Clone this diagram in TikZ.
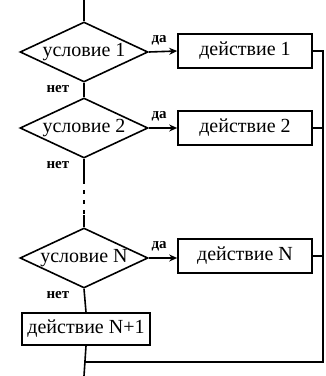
\documentclass[tikz,border=0pt]{standalone}
\usepackage{fontspec}
\setmainfont{Liberation Serif}
\usetikzlibrary{shapes.geometric,arrows.meta}
\begin{document}
\begin{tikzpicture}[x=0.5pt,y=-0.5pt,line width=0.8pt,
  cond/.style={diamond,draw,inner sep=0pt,minimum width=64pt,minimum height=30pt,aspect=2.13,font=\fontsize{10}{12}\selectfont},
  act/.style={rectangle,draw,inner sep=0pt,minimum width=67pt,minimum height=17pt,font=\fontsize{10}{12}\selectfont},
  lbl/.style={font=\fontsize{7.5}{9}\selectfont\bfseries,inner sep=1pt},
  arr/.style={-{Stealth[length=4pt,width=3.5pt]}}]
\useasboundingbox (0,0) rectangle (326,376);
\coordinate (top) at (84,0);
\node[cond] (d1) at (84,52) {условие 1};
\node[cond] (d2) at (84,128) {условие 2};
\node[cond] (dN) at (84,258) {условие N};
\node[act] (b1) at (245,51) {действие 1};
\node[act] (b2) at (245,128) {действие 2};
\node[act] (bN) at (245,256) {действие N};
\node[act,minimum width=64pt,minimum height=16pt] (bN1) at (86,329) {действие N+1};
\coordinate (c1) at (84,180);
\coordinate (c2) at (84,215);
\coordinate (r1) at (323,51);
\coordinate (rb) at (323,362);
\coordinate (lb) at (84,362);
\coordinate (bot) at (84,376);
\draw (top) -- (d1.north);
\draw[arr] (d1.east) -- (b1.west);
\draw[arr] (d2.east) -- (b2.west |- d2.east);
\draw[arr] (dN.east) -- (bN.west |- dN.east);
\draw (d1.south) -- (d2.north);
\draw (d2.south) -- (c1);
\draw[dash pattern=on 2pt off 3pt] (c1) -- (c2);
\draw (c2) -- (dN.north);
\draw (dN.south) -- (bN1.north);
\draw (bN1.south) -- (bot);
\draw (b1.east) -- (r1) -- (rb) -- (lb);
\draw (b2.east) -- (b2.east -| r1);
\draw (bN.east) -- (bN.east -| r1);
\node[lbl,anchor=south west] (y1) at ([yshift=2pt]d1.east) {да};
\node[lbl,anchor=south west] (y2) at ([yshift=2pt]d2.east) {да};
\node[lbl,anchor=south west] (yN) at ([yshift=2pt]dN.east) {да};
\node[lbl,anchor=north east] (n1) at ([xshift=-6pt]d1.south) {нет};
\node[lbl,anchor=north east] (n2) at ([xshift=-6pt]d2.south) {нет};
\node[lbl,anchor=north east] (nN) at ([xshift=-6pt]dN.south) {нет};
\end{tikzpicture}
\end{document}
